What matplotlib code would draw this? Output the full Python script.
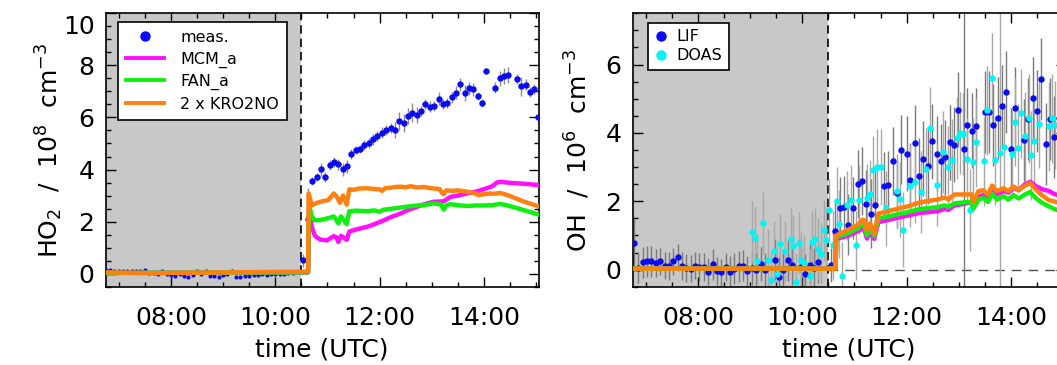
import numpy as np
import matplotlib
matplotlib.use("Agg")
import matplotlib.pyplot as plt
import matplotlib.transforms as mtransforms
from matplotlib.lines import Line2D
from matplotlib.ticker import MultipleLocator, FixedLocator, FuncFormatter

plt.rcParams['font.family'] = ['DejaVu Sans']
plt.rcParams['mathtext.default'] = 'regular'

# ---------------- HO2 panel data (time in hours UTC, values in 1e8 cm-3) ----------------
ho2_pre_t = np.arange(45) * (5 / 60.) + 6.75
ho2_pre = [0.15, 0.14, 0.12, 0.12, 0.11, 0.10, 0.10, 0.10, 0.10,
           0.13, 0.02, 0.03, 0.00, 0.10, -0.03,
           -0.05, -0.07, -0.03, -0.10, -0.12, -0.05,
           0.10, -0.02, 0.10, -0.08, -0.10, -0.12,
           -0.06, -0.02, 0.10, -0.12, -0.14, -0.08,
           -0.07, -0.04, -0.06, -0.02, -0.04, -0.03,
           -0.02, -0.01, 0.00, 0.02, 0.03, 0.05]

ho2_t = [10.54, 10.62, 10.71, 10.80, 10.88, 10.96, 11.05, 11.13, 11.21, 11.30,
         11.37, 11.46, 11.54, 11.63, 11.71, 11.80, 11.88, 11.96, 12.05, 12.13,
         12.22, 12.30, 12.38, 12.47, 12.55, 12.63, 12.72, 12.80, 12.88, 12.96,
         13.05, 13.13, 13.21, 13.30, 13.38, 13.46, 13.55, 13.63, 13.71, 13.79,
         13.88, 13.96, 14.04, 14.22, 14.30, 14.38, 14.47, 14.63, 14.72, 14.80,
         14.88, 14.96, 15.04]
ho2_meas = [0.51, 2.09, 3.57, 3.72, 4.01, 3.72, 4.17, 4.30, 4.20, 4.01,
            4.13, 4.59, 4.75, 4.78, 4.94, 5.01, 5.16, 5.29, 5.42, 5.52,
            5.59, 5.52, 5.87, 5.78, 6.06, 6.19, 6.09, 6.25, 6.52, 6.42,
            6.45, 6.71, 6.52, 6.55, 6.77, 6.94, 7.28, 6.94, 7.13, 7.09,
            6.81, 6.57, 7.80, 7.15, 7.50, 7.60, 7.64, 7.48, 7.19, 7.26,
            6.98, 7.10, 6.01]
ho2_err = [0.25, 1.20, 0.15, 0.15, 0.25, 0.20, 0.20, 0.20, 0.20, 0.25,
           0.25, 0.20, 0.15, 0.15, 0.20, 0.20, 0.20, 0.20, 0.20, 0.20,
           0.20, 0.30, 0.35, 0.35, 0.30, 0.35, 0.30, 0.20, 0.20, 0.20,
           0.20, 0.25, 0.20, 0.20, 0.20, 0.25, 0.25, 0.30, 0.25, 0.25,
           0.15, 0.15, 0.10, 0.20, 0.30, 0.30, 0.30, 0.20, 0.35, 0.20,
           0.20, 0.20, 0.10]

ho2_mcm_t = [6.75, 10.63, 10.65, 10.70, 10.76, 10.86, 10.99, 11.12, 11.17, 11.21,
             11.26, 11.30, 11.37, 11.42, 11.55, 11.76, 11.90, 12.08, 12.25, 12.40,
             12.55, 12.72, 12.88, 13.03, 13.23, 13.36, 13.50, 13.67, 13.85, 13.99,
             14.15, 14.25, 14.31, 14.45, 14.63, 14.80, 14.95, 15.05]
ho2_mcm = [0.03, 0.05, 2.45, 1.80, 1.45, 1.31, 1.28, 1.44, 1.40, 1.22,
           1.45, 1.40, 1.30, 1.62, 1.70, 1.80, 1.90, 2.05, 2.20, 2.31,
           2.45, 2.57, 2.68, 2.76, 2.78, 2.95, 3.00, 3.08, 3.15, 3.24,
           3.35, 3.50, 3.53, 3.50, 3.47, 3.45, 3.42, 3.40]

ho2_fan_t = [6.75, 10.63, 10.65, 10.70, 10.76, 10.86, 10.95, 11.05, 11.12, 11.16,
             11.21, 11.26, 11.30, 11.37, 11.42, 11.55, 11.76, 11.90, 12.00, 12.08,
             12.25, 12.40, 12.55, 12.72, 12.90, 13.03, 13.18, 13.23, 13.28, 13.36,
             13.50, 13.67, 13.85, 13.99, 14.15, 14.31, 14.45, 14.63, 14.80, 14.95, 15.05]
ho2_fan = [0.03, 0.05, 2.65, 2.20, 2.05, 2.06, 2.10, 2.15, 2.20, 2.10,
           1.93, 2.20, 2.10, 1.90, 2.40, 2.42, 2.40, 2.43, 2.38, 2.46,
           2.50, 2.54, 2.58, 2.62, 2.65, 2.70, 2.65, 2.46, 2.62, 2.67,
           2.63, 2.60, 2.62, 2.62, 2.63, 2.68, 2.62, 2.52, 2.42, 2.33, 2.27]

ho2_kro_t = [6.75, 7.60, 10.63, 10.64, 10.70, 10.80, 10.90, 11.02, 11.12, 11.18,
             11.24, 11.30, 11.37, 11.42, 11.50, 11.60, 11.76, 11.90, 12.00, 12.05,
             12.10, 12.20, 12.30, 12.40, 12.50, 12.60, 12.72, 12.85, 13.00, 13.15,
             13.20, 13.23, 13.28, 13.40, 13.50, 13.67, 13.80, 13.90, 13.99, 14.10,
             14.20, 14.31, 14.40, 14.50, 14.63, 14.75, 14.90, 15.05]
ho2_kro = [0.05, 0.02, 0.08, 3.08, 2.63, 2.72, 2.78, 2.83, 3.08, 2.95,
           2.72, 3.00, 2.65, 3.24, 3.22, 3.27, 3.28, 3.25, 3.24, 3.18,
           3.28, 3.30, 3.33, 3.34, 3.32, 3.36, 3.31, 3.33, 3.28, 3.25,
           3.10, 3.05, 3.20, 3.18, 3.20, 3.15, 3.10, 3.02, 3.05, 3.08,
           3.07, 3.10, 3.05, 2.98, 2.88, 2.78, 2.68, 2.59]

# ---------------- OH panel data (values in 1e6 cm-3) ----------------
lif_t = [6.78, 6.86, 6.95, 7.03, 7.11, 7.20, 7.28, 7.36, 7.45, 7.53,
         7.61, 7.70, 7.78, 7.86, 7.95, 8.03, 8.12, 8.20, 8.28, 8.37,
         8.45, 8.53, 8.62, 8.70, 8.79, 8.87, 8.95, 9.04, 9.12, 9.20,
         9.29, 9.47, 9.55, 9.64, 9.72, 9.80, 9.97, 10.05, 10.14, 10.22,
         10.30, 10.55, 10.63, 10.72, 10.80, 10.88, 10.97, 11.07, 11.15, 11.23,
         11.31, 11.40, 11.57, 11.65, 11.73, 11.82, 11.90, 12.00, 12.07, 12.16,
         12.24, 12.32, 12.41, 12.49, 12.58, 12.66, 12.74, 12.83, 12.91, 12.99,
         13.10, 13.16, 13.25, 13.33, 13.50, 13.58, 13.66, 13.75, 13.83, 13.91,
         14.00, 14.08, 14.25, 14.33, 14.42, 14.50, 14.58, 14.67, 14.75, 14.83, 14.92]
lif = [0.79, 0.06, 0.21, 0.24, 0.24, 0.19, 0.24, 0.12, 0.11, 0.24,
       0.36, 0.11, 0.05, 0.03, 0.12, 0.08, 0.08, -0.06, 0.15, -0.04,
       -0.08, 0.08, -0.06, 0.03, 0.10, 0.11, -0.04, 0.05, 0.00, 0.16,
       0.00, 0.29, -0.22, 0.00, 0.28, 0.14, 0.08, -0.13, 0.14, 0.04,
       0.22, 0.13, 1.13, 1.81, 1.83, 1.32, 1.80, 2.51, 2.59, 1.91,
       1.64, 1.90, 2.44, 2.48, 3.17, 2.24, 3.51, 3.39, 2.61, 3.71,
       2.74, 3.25, 3.02, 3.76, 3.39, 3.17, 3.29, 3.73, 3.66, 4.68,
       3.54, 4.22, 4.07, 4.20, 4.61, 4.60, 4.24, 4.43, 4.80, 5.21,
       3.54, 4.74, 3.80, 4.40, 5.03, 4.63, 5.58, 3.68, 4.40, 3.88, 4.43]
lif_err = [0.70, 0.45, 0.45, 0.45, 0.45, 0.40, 0.40, 0.40, 0.40, 0.40,
           0.40, 0.40, 0.40, 0.40, 0.40, 0.40, 0.40, 0.40, 0.45, 0.40,
           0.40, 0.40, 0.45, 0.45, 0.45, 0.45, 0.45, 0.50, 0.50, 0.50,
           0.50, 0.60, 0.60, 0.60, 0.60, 0.60, 0.60, 0.60, 0.60, 0.60,
           0.60, 0.50, 0.90, 0.90, 0.90, 0.90, 0.90, 1.00, 1.00, 1.00,
           1.00, 1.00, 1.00, 1.00, 1.00, 1.00, 1.00, 1.10, 1.10, 1.10,
           1.10, 1.10, 1.10, 1.10, 1.10, 1.10, 1.10, 1.10, 1.10, 1.10,
           9.00, 1.10, 1.10, 1.10, 1.20, 1.20, 1.20, 1.20, 1.20, 1.20,
           1.20, 1.20, 1.20, 1.20, 1.20, 1.20, 1.20, 1.20, 1.20, 1.20, 1.20]

doas_t = [9.03, 9.09, 9.14, 9.24, 9.35, 9.41, 9.46, 9.52, 9.57, 9.67,
          9.78, 9.83, 9.88, 9.93, 9.98, 10.04, 10.14, 10.19, 10.25, 10.30,
          10.36, 10.41, 10.46, 10.51, 10.59, 10.67, 10.70, 10.77, 10.85, 10.93,
          11.03, 11.09, 11.25, 11.30, 11.35, 11.44, 11.51, 11.60, 11.82, 11.88,
          11.94, 12.07, 12.17, 12.28, 12.38, 12.44, 12.59, 12.70, 12.80, 12.87,
          12.96, 13.02, 13.08, 13.16, 13.21, 13.27, 13.34, 13.49, 13.54, 13.64,
          13.69, 13.80, 13.87, 14.02, 14.07, 14.13, 14.19, 14.27, 14.35, 14.39,
          14.45, 14.54, 14.73, 14.79, 14.85]
doas = [1.10, 0.92, 0.24, 1.36, 0.29, -0.29, 0.53, -0.13, 0.74, 0.53,
        0.89, 0.70, -0.35, 0.79, 0.29, 0.20, -0.19, 0.82, 0.89, 0.60,
        0.47, 1.15, 0.88, 1.75, 0.71, 2.00, 1.34, -0.20, 1.88, 2.05,
        0.71, 2.05, 2.10, 2.21, 2.92, 3.00, 3.00, 1.80, 2.29, 2.06,
        1.17, 2.44, 2.56, 2.27, 2.95, 4.15, 2.48, 3.44, 3.00, 3.20,
        3.86, 4.00, 3.98, 3.25, 1.73, 3.15, 3.73, 3.17, 4.66, 5.61,
        3.20, 3.40, 3.58, 3.37, 4.32, 3.56, 4.58, 3.90, 4.43, 3.35,
        3.75, 4.27, 4.20, 4.43, 4.23]
doas_err = [0.90, 0.90, 0.80, 0.90, 0.90, 0.80, 0.90, 0.80, 0.90, 0.90,
            0.90, 0.90, 0.80, 0.90, 0.80, 0.80, 0.80, 0.90, 0.90, 0.90,
            0.90, 0.90, 0.90, 0.90, 1.00, 1.00, 1.00, 1.00, 1.00, 1.00,
            1.00, 1.00, 1.00, 1.00, 1.00, 1.10, 1.10, 1.10, 1.10, 1.10,
            1.10, 1.20, 1.20, 1.20, 1.20, 1.20, 1.20, 1.20, 1.20, 1.20,
            1.20, 1.20, 1.20, 1.20, 1.20, 1.30, 1.30, 1.30, 1.30, 1.30,
            1.30, 9.00, 1.30, 1.30, 1.30, 1.30, 1.30, 1.30, 1.30, 1.30,
            1.30, 1.30, 1.30, 1.30, 1.30]

oh_mod_t = [6.75, 10.64, 10.65, 10.86, 11.06, 11.15, 11.19, 11.24, 11.30, 11.38,
            11.46, 11.64, 11.83, 12.02, 12.22, 12.41, 12.60, 12.73, 12.80, 12.92,
            13.12, 13.25, 13.28, 13.38, 13.47, 13.56, 13.64, 13.73, 13.86, 13.95,
            14.05, 14.15, 14.27, 14.37, 14.47, 14.60, 14.73, 14.82, 14.92, 15.05]
oh_mcm = [0.03, 0.03, 0.90, 0.98, 1.12, 1.20, 1.17, 0.91, 1.10, 0.90,
          1.39, 1.45, 1.52, 1.58, 1.65, 1.68, 1.71, 1.78, 1.75, 1.88,
          1.93, 1.98, 1.82, 2.12, 2.18, 2.08, 2.35, 2.20, 2.30, 2.25,
          2.40, 2.32, 2.50, 2.57, 2.45, 2.35, 2.30, 2.22, 2.17, 2.15]
oh_fan = [0.03, 0.03, 0.95, 1.05, 1.20, 1.34, 1.30, 1.00, 1.22, 0.98,
          1.50, 1.55, 1.62, 1.68, 1.76, 1.80, 1.83, 1.88, 1.84, 1.94,
          1.97, 1.98, 1.78, 2.05, 2.10, 1.98, 2.22, 2.05, 2.15, 2.05,
          2.18, 2.08, 2.20, 2.27, 2.10, 1.95, 1.85, 1.78, 1.73, 1.70]
oh_kro = [0.03, 0.03, 1.00, 1.15, 1.30, 1.46, 1.44, 1.15, 1.35, 1.05,
          1.64, 1.71, 1.78, 1.85, 1.95, 2.01, 2.05, 2.11, 2.05, 2.20,
          2.20, 2.20, 1.98, 2.30, 2.32, 2.20, 2.46, 2.30, 2.38, 2.30,
          2.43, 2.33, 2.46, 2.53, 2.35, 2.17, 2.03, 2.00, 1.95, 1.90]

t_start = 10.5  # start of the experiment (end of shaded period)
xlim = (6.75, 15.05)
hour_ticks = [8, 10, 12, 14]

BLUE = '#0a0af5'
CYAN = '#00f5f5'
MAG = '#ff10ff'
GRN = '#10f010'
ORG = '#ff8010'
SHADE = '#c8c8c8'

fig = plt.figure(figsize=(10.57, 3.65), dpi=100)
W, H = 1057., 365.
ax1 = fig.add_axes([105.7 / W, 1 - 286.7 / H, 433 / W, 273.4 / H])
ax2 = fig.add_axes([632.7 / W, 1 - 286.7 / H, 433 / W, 273.4 / H])


def style_axis(ax, ymin, ymax, ymajor, skip_top=False):
    ax.set_xlim(*xlim)
    ax.set_ylim(ymin, ymax)
    ax.xaxis.set_major_locator(FixedLocator(hour_ticks))
    ax.xaxis.set_minor_locator(MultipleLocator(0.5))
    ax.xaxis.set_major_formatter(FuncFormatter(lambda v, p: '%02d:00' % int(round(v))))
    ax.yaxis.set_major_locator(MultipleLocator(ymajor))
    ax.yaxis.set_minor_locator(MultipleLocator(ymajor / 4.))
    if skip_top:
        fmt = lambda v, p: '' if abs(v - ymax) < 1e-6 else '%d' % int(round(v))
    else:
        fmt = lambda v, p: '%d' % int(round(v))
    ax.yaxis.set_major_formatter(FuncFormatter(fmt))
    ax.tick_params(which='both', direction='in', top=True, right=True, width=1.0,
                   labelsize=18, colors='black')
    ax.tick_params(which='major', length=7)
    ax.tick_params(which='minor', length=3.5)
    ax.tick_params(axis='x', pad=14)
    ax.tick_params(axis='y', pad=8)
    for s in ax.spines.values():
        s.set_linewidth(1.2)
    ax.axvspan(xlim[0], t_start, color=SHADE, lw=0, zorder=0)
    ax.axvline(t_start, color='black', lw=1.2, dashes=(5, 3), zorder=1)
    ax.set_xlabel('time (UTC)', fontsize=18, labelpad=5)


# ---- left: HO2 ----
style_axis(ax1, -0.5, 10, 2, skip_top=True)
# the top label "10" sits just below the frame in the original
trans = mtransforms.blended_transform_factory(ax1.transAxes, ax1.transData) + \
    mtransforms.ScaledTranslation(-8 / 72., -1 / 72., fig.dpi_scale_trans)
ax1.text(0, 10, '10', transform=trans, ha='right', va='top', fontsize=18)

ax1.plot(ho2_pre_t, ho2_pre, 'o', color=BLUE, ms=3.0, mew=0, zorder=3)
ax1.errorbar(ho2_t, ho2_meas, yerr=ho2_err, fmt='o', color=BLUE, ms=4.6, mew=0,
             ecolor='#8c8c8c', elinewidth=1.0, capsize=0, zorder=3)
ax1.plot(ho2_mcm_t, ho2_mcm, color=MAG, lw=3.2, zorder=4)
ax1.plot(ho2_fan_t, ho2_fan, color=GRN, lw=3.2, zorder=5)
ax1.plot(ho2_kro_t, ho2_kro, color=ORG, lw=3.2, zorder=6)
ax1.set_ylabel('HO$_2$  /  10$^8$  cm$^{-3}$', fontsize=18, labelpad=10)

h1 = [Line2D([], [], ls='none', marker='o', color=BLUE, ms=7.5, mew=0),
      Line2D([], [], color=MAG, lw=2.8),
      Line2D([], [], color=GRN, lw=2.8),
      Line2D([], [], color=ORG, lw=2.8)]
leg1 = ax1.legend(h1, ['meas.', 'MCM_a', 'FAN_a', '2 x KRO2NO'], loc='upper left',
                  bbox_to_anchor=(0.028, 0.968), borderaxespad=0, fontsize=11.5,
                  fancybox=False, framealpha=1, edgecolor='black',
                  handlelength=2.4, handletextpad=1.0, labelspacing=0.4,
                  borderpad=0.5)
leg1.get_frame().set_linewidth(1.2)

# ---- right: OH ----
style_axis(ax2, -0.5, 7.5, 2)
ax2.plot([t_start, xlim[1]], [0, 0], color='#505050', lw=1.0, dashes=(7, 5), zorder=1)
ax2.errorbar(lif_t, lif, yerr=lif_err, fmt='none', ecolor='#7a7a7a',
             elinewidth=1.0, capsize=0, zorder=2)
ax2.errorbar(doas_t, doas, yerr=doas_err, fmt='none', ecolor='#a8a8a8',
             elinewidth=1.0, capsize=0, zorder=2)
ax2.plot(lif_t, lif, 'o', color=BLUE, ms=4.6, mew=0, zorder=3)
ax2.plot(doas_t, doas, 'o', color=CYAN, ms=4.6, mew=0, zorder=3)
ax2.plot(oh_mod_t, oh_mcm, color=MAG, lw=3.2, zorder=4)
ax2.plot(oh_mod_t, oh_fan, color=GRN, lw=3.2, zorder=5)
ax2.plot(oh_mod_t, oh_kro, color=ORG, lw=3.2, zorder=6)
ax2.set_ylabel('OH  /  10$^6$  cm$^{-3}$', fontsize=18, labelpad=10)

h2 = [Line2D([], [], ls='none', marker='o', color=BLUE, ms=7.5, mew=0),
      Line2D([], [], ls='none', marker='o', color=CYAN, ms=7.5, mew=0)]
leg2 = ax2.legend(h2, ['LIF', 'DOAS'], loc='upper left',
                  bbox_to_anchor=(0.035, 0.965), borderaxespad=0, fontsize=11.5,
                  fancybox=False, framealpha=1, edgecolor='black',
                  handlelength=0.8, handletextpad=0.6, labelspacing=0.25,
                  borderpad=0.4)
leg2.get_frame().set_linewidth(1.2)

fig.savefig('out.png', dpi=100)
